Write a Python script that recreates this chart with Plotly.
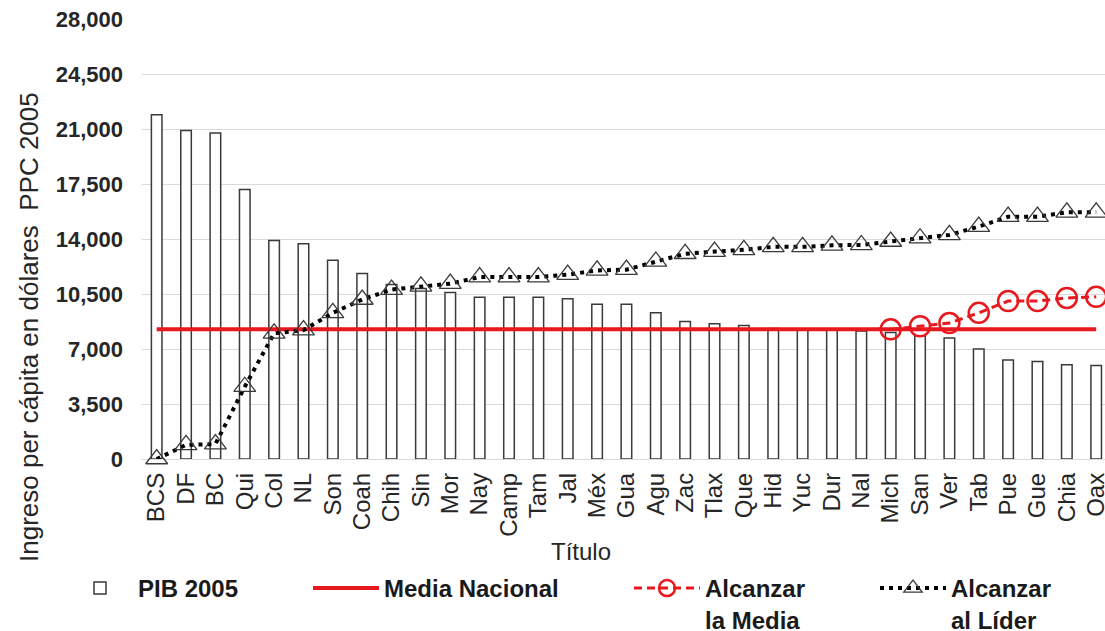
import plotly.graph_objects as go

categories = ["BCS", "DF", "BC", "Qui", "Col", "NL", "Son", "Coah", "Chih", "Sin", "Mor",
              "Nay", "Camp", "Tam", "Jal", "Méx", "Gua", "Agu", "Zac", "Tlax", "Que", "Hid",
              "Yuc", "Dur", "Nal", "Mich", "San", "Ver", "Tab", "Pue", "Gue", "Chia", "Oax"]

pib_2005 = [21900, 20900, 20750, 17150, 13900, 13700, 12650, 11800, 11100, 10850, 10600,
            10300, 10300, 10300, 10200, 9850, 9850, 9300, 8750, 8600, 8500, 8300,
            8250, 8200, 8150, 8050, 7850, 7700, 7000, 6300, 6200, 6000, 5950]

media_nacional_value = 8250
media_nacional = [media_nacional_value] * len(categories)

alcanzar_media = [None] * 25 + [8250, 8450, 8650, 9300, 10050, 10050, 10250, 10320]

alcanzar_lider = [0, 900, 950, 4600, 8000, 8200, 9300, 10150, 10780, 10990, 11160,
                  11580, 11580, 11580, 11730, 12000, 12050, 12570, 13060, 13200, 13310, 13500,
                  13500, 13600, 13620, 13840, 14050, 14260, 14790, 15420, 15420, 15700, 15700]

y_ticks = [0, 3500, 7000, 10500, 14000, 17500, 21000, 24500, 28000]

FONT = "Liberation Sans, Arial, sans-serif"
RED = "#e8191e"
W, H = 1105, 631

fig = go.Figure()

fig.add_trace(go.Bar(
    x=categories, y=pib_2005, name="PIB 2005", legend="legend",
    width=0.36,
    marker=dict(color="white", line=dict(color="#3a3a3a", width=1.5)),
))

fig.add_trace(go.Scatter(
    x=categories, y=media_nacional, name="Media Nacional", legend="legend2",
    mode="lines", line=dict(color=RED, width=4),
))

fig.add_trace(go.Scatter(
    x=categories, y=alcanzar_media, name="Alcanzar<br>la Media", legend="legend3",
    mode="lines+markers",
    line=dict(color=RED, width=3, dash="8px,5px"),
    marker=dict(symbol="circle-open", size=20, color=RED, line=dict(width=2.5, color=RED)),
    cliponaxis=False,
))

fig.add_trace(go.Scatter(
    x=categories, y=alcanzar_lider, name="Alcanzar<br>al Líder", legend="legend4",
    mode="lines+markers",
    line=dict(color="black", width=4, dash="4px,5px"),
    marker=dict(symbol="triangle-up-open", size=19, color="#3a3a3a", line=dict(width=1.3, color="#3a3a3a")),
    cliponaxis=False,
))


def legend_at(px_left):
    return dict(
        orientation="h", xref="container", yref="container",
        x=px_left / W, xanchor="left", y=(H - 566) / H, yanchor="top",
        font=dict(family=FONT, size=24, color="#1a1a1a", weight="bold"),
        itemwidth=66, valign="top", bgcolor="rgba(0,0,0,0)",
        tracegroupgap=0,
    )


fig.update_layout(
    width=W, height=H,
    margin=dict(l=142, r=0, t=19, b=172),
    paper_bgcolor="white", plot_bgcolor="white",
    font=dict(family=FONT, color="#262626"),
    showlegend=True,
    legend=legend_at(62),
    legend2=legend_at(308),
    legend3=legend_at(629),
    legend4=legend_at(875),
    bargap=0.6,
)

fig.update_xaxes(
    type="category", range=[-0.5, 32.3], automargin=False,
    tickangle=-90, tickfont=dict(family=FONT, size=24, color="#262626"),
    showgrid=False, showline=False, ticks="", ticklabelstandoff=8,
)

fig.update_yaxes(
    range=[0, 28000], tickvals=y_ticks, tickformat=",", automargin=False,
    tickfont=dict(family=FONT, size=22, color="#262626", weight="bold"),
    showgrid=True, gridcolor="#d9d9d9", gridwidth=1,
    zeroline=True, zerolinecolor="#d9d9d9", zerolinewidth=1,
    showline=False, ticks="", ticklabelstandoff=18,
)

fig.add_annotation(
    text="Título", xref="paper", yref="paper",
    x=(581 - 142) / 963, y=-(551 - 459) / 440,
    xanchor="center", yanchor="middle", showarrow=False,
    font=dict(family=FONT, size=24, color="#262626"),
)

fig.add_annotation(
    text="Ingreso per cápita en dólares  PPC 2005", xref="paper", yref="paper",
    x=(29 - 142) / 963, y=(459 - 327) / 440, textangle=-90,
    xanchor="center", yanchor="middle", showarrow=False,
    font=dict(family=FONT, size=26, color="#262626"),
)

fig.write_html("out.html", config={"displayModeBar": False},
               post_script="document.body.style.margin='0';")
